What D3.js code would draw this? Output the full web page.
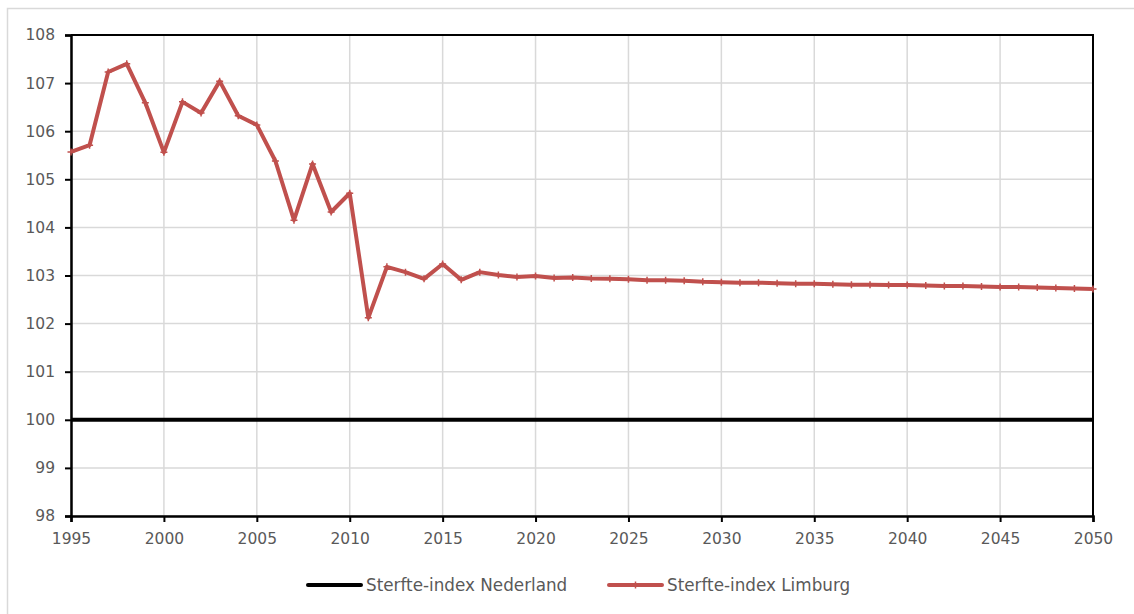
<!DOCTYPE html>
<html><head><meta charset="utf-8">
<script src="https://cdn.jsdelivr.net/npm/d3@7"></script>
<style>body{margin:0;background:#fff}svg{display:block}</style>
</head><body>
<svg id="c" width="1134" height="614"></svg>
<script>
const years = d3.range(1995, 2051);
const limburg = [105.57,105.71,107.23,107.40,106.59,105.56,106.61,106.38,107.04,106.32,
106.13,105.38,104.15,105.32,104.32,104.71,102.12,103.18,103.07,102.93,
103.24,102.91,103.07,103.01,102.97,102.99,102.95,102.96,102.94,102.93,
102.92,102.90,102.90,102.89,102.87,102.86,102.85,102.85,102.84,102.83,
102.83,102.82,102.81,102.81,102.80,102.80,102.79,102.78,102.78,102.77,
102.76,102.76,102.75,102.74,102.73,102.72];
const nederland = years.map(()=>100);
const xTicks = d3.range(1995, 2051, 5);
const yTicks = d3.range(98, 109, 1);
const seriesNames = ["Sterfte-index Nederland","Sterfte-index Limburg"];

const svg = d3.select("#c");
const L=71,R=1093,T=35,B=516;
const x = d3.scaleLinear().domain([1995,2050]).range([L,R]);
const y = d3.scaleLinear().domain([98,108]).range([B,T]);
const font = "'DejaVu Sans', sans-serif";

// frame
svg.append("path").attr("d","M7.5,614 V8.5 H1134").attr("fill","none").attr("stroke","#d9d9d9").attr("stroke-width",1.5);

// grid
svg.append("g").selectAll("line").data(yTicks).join("line")
 .attr("x1",L).attr("x2",R).attr("y1",d=>y(d)).attr("y2",d=>y(d))
 .attr("stroke","#d9d9d9").attr("stroke-width",1.5);
svg.append("g").selectAll("line").data(xTicks).join("line")
 .attr("y1",T).attr("y2",B).attr("x1",d=>x(d)).attr("x2",d=>x(d))
 .attr("stroke","#d9d9d9").attr("stroke-width",1.5);

// top / right border
svg.append("path").attr("d",`M${L},${T} H${R} V${B}`).attr("fill","none").attr("stroke","#000").attr("stroke-width",2);

// axes
const ya = svg.append("g").attr("transform",`translate(${L},0)`)
 .call(d3.axisLeft(y).tickValues(yTicks).tickSize(6).tickPadding(10).tickFormat(d3.format("d")));
const xa = svg.append("g").attr("transform",`translate(0,${B})`)
 .call(d3.axisBottom(x).tickValues(xTicks).tickSize(6).tickPadding(11).tickFormat(d3.format("d")));
[ya,xa].forEach(a=>{
 a.attr("font-family",font).attr("font-size",15.5);
 a.select(".domain").attr("stroke","#000").attr("stroke-width",2.5);
 a.selectAll(".tick line").attr("stroke","#000").attr("stroke-width",2);
 a.selectAll("text").attr("fill","#595959");
});

// lines
const line = d3.line().x((d,i)=>x(years[i])).y(d=>y(d));
svg.append("path").datum(nederland).attr("d",line).attr("fill","none").attr("stroke","#000").attr("stroke-width",4);
svg.append("path").datum(limburg).attr("d",line).attr("fill","none").attr("stroke","#C0504D").attr("stroke-width",4).attr("stroke-linejoin","round");
svg.append("g").selectAll("path").data(limburg).join("path")
 .attr("d",(d,i)=>{const cx=x(years[i]),cy=y(d);return `M${cx-3.5},${cy}H${cx+3.5}M${cx},${cy-3.5}V${cy+3.5}`;})
 .attr("stroke","#C0504D").attr("stroke-width",1.5);

// legend
const lg = svg.append("g").attr("font-family",font).attr("font-size",16.8);
const items=[{n:seriesNames[0],c:"#000",x0:308,m:false},{n:seriesNames[1],c:"#C0504D",x0:609,m:true}];
items.forEach(it=>{
 lg.append("line").attr("x1",it.x0).attr("x2",it.x0+53).attr("y1",585).attr("y2",585).attr("stroke",it.c).attr("stroke-width",4).attr("stroke-linecap","round");
 if(it.m) lg.append("path").attr("d",`M${it.x0+26.5},581.5V588.5`).attr("stroke",it.c).attr("stroke-width",1.5);
 lg.append("text").attr("x",it.x0+58).attr("y",591).attr("fill","#595959").text(it.n);
});
</script>
</body></html>
